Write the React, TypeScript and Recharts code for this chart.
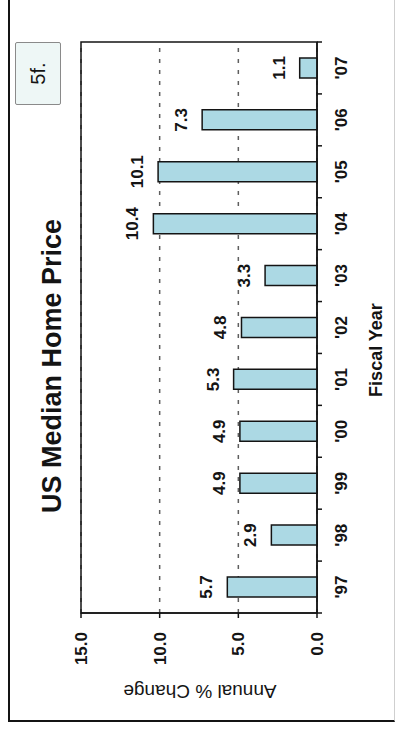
import React from 'react';
import { BarChart, Bar, XAxis, YAxis, CartesianGrid, LabelList, ReferenceArea } from 'recharts';

const years = ["'97", "'98", "'99", "'00", "'01", "'02", "'03", "'04", "'05", "'06", "'07"];
const annualChange = [5.7, 2.9, 4.9, 4.9, 5.3, 4.8, 3.3, 10.4, 10.1, 7.3, 1.1];
const valueTicks = [0, 5, 10, 15];

const data = years.map((year, i) => ({ year, change: annualChange[i] }));

const FONT = 'Arial, "Liberation Sans", Helvetica, sans-serif';
const INK = '#141414';
const X_TICK_SIZE = 5;
const X_TICK_MARGIN = 13;

// year label under each bar, plus a short tick at the band edges
const YearTick = (props: any) => {
  const { x, y, payload, index, width } = props;
  const half = payload?.offset ? payload.offset : width / (2 * years.length);
  const axisY = y - X_TICK_SIZE - X_TICK_MARGIN;
  return (
    <g>
      {index === 0 && (
        <line x1={x - half} x2={x - half} y1={axisY} y2={axisY + X_TICK_SIZE} stroke={INK} strokeWidth={1.5} />
      )}
      <line x1={x + half} x2={x + half} y1={axisY} y2={axisY + X_TICK_SIZE} stroke={INK} strokeWidth={1.5} />
      <text x={x} y={y} dy="0.72em" textAnchor="middle" fontSize={17} fontWeight="bold" fill={INK} fontFamily={FONT}>
        {payload.value}
      </text>
    </g>
  );
};

const HomePriceChart: React.FC = () => {
  return (
    <div style={{ position: 'relative', width: 730, height: 404, fontFamily: FONT, color: INK }}>
      {/* page frame */}
      <div
        style={{
          position: 'absolute', left: 8, top: 8, width: 720, height: 384,
          borderLeft: `2px solid ${INK}`, borderTop: `2px solid ${INK}`,
          borderRight: `2px solid ${INK}`, borderBottom: '1px solid #cfcfcf',
        }}
      />
      {/* figure tag */}
      <div
        style={{
          position: 'absolute', left: 625, top: 15, width: 61, height: 44,
          border: '1px solid #8a8a8a', background: '#eef7f6', borderRadius: 2,
          display: 'flex', alignItems: 'center', justifyContent: 'center', fontSize: 20,
        }}
      >
        5f.
      </div>
      <div
        style={{
          position: 'absolute', left: 364, top: 39, transform: 'translateX(-50%)',
          whiteSpace: 'nowrap', fontSize: 27, lineHeight: '27px', fontWeight: 'bold',
        }}
      >
        US Median Home Price
      </div>
      <div
        style={{
          position: 'absolute', left: 39, top: 200, transform: 'translate(-50%, -50%) rotate(-90deg)',
          whiteSpace: 'nowrap', fontSize: 19, lineHeight: '19px',
        }}
      >
        Annual % Change
      </div>
      <div
        style={{
          position: 'absolute', left: 380, top: 367, transform: 'translateX(-50%)',
          whiteSpace: 'nowrap', fontSize: 18, lineHeight: '18px', fontWeight: 'bold',
        }}
      >
        Fiscal Year
      </div>
      <div style={{ position: 'absolute', left: 0, top: 0 }}>
        <BarChart width={730} height={404} data={data} margin={{ top: 81, right: 42, bottom: 40, left: 20 }}>
          <CartesianGrid vertical={false} stroke="#5f5f5f" strokeDasharray="4 7" strokeWidth={1.5} />
          <XAxis
            dataKey="year"
            height={47}
            interval={0}
            tickLine={false}
            tickSize={X_TICK_SIZE}
            tickMargin={X_TICK_MARGIN}
            axisLine={{ stroke: INK, strokeWidth: 1.5 }}
            tick={<YearTick />}
          />
          <YAxis
            width={97}
            domain={[0, 15]}
            ticks={valueTicks}
            interval={0}
            tickSize={5}
            tickMargin={14}
            tickFormatter={(v: number) => v.toFixed(1)}
            axisLine={{ stroke: INK, strokeWidth: 1.5 }}
            tickLine={{ stroke: INK, strokeWidth: 1.5 }}
            tick={{ fill: INK, fontSize: 17, fontWeight: 'bold', fontFamily: FONT }}
          />
          <ReferenceArea y1={0} y2={15} fill="none" fillOpacity={0} stroke={INK} strokeWidth={1.5} ifOverflow="visible" />
          <Bar dataKey="change" barSize={20} fill="#acd9e4" stroke={INK} strokeWidth={1.5} isAnimationActive={false}>
            <LabelList
              dataKey="change"
              position="top"
              offset={15}
              formatter={(v: any) => Number(v).toFixed(1)}
              fill={INK}
              fontSize={17}
              fontWeight="bold"
              fontFamily={FONT}
            />
          </Bar>
        </BarChart>
      </div>
    </div>
  );
};

export default function App() {
  return (
    <div style={{ position: 'fixed', left: 0, top: 0, width: 404, height: 730, background: '#fff', overflow: 'hidden' }}>
      {/* the figure is printed sideways on the page */}
      <div style={{ position: 'absolute', left: 0, top: 0, transformOrigin: '0 0', transform: 'translateY(730px) rotate(-90deg)' }}>
        <HomePriceChart />
      </div>
    </div>
  );
}
